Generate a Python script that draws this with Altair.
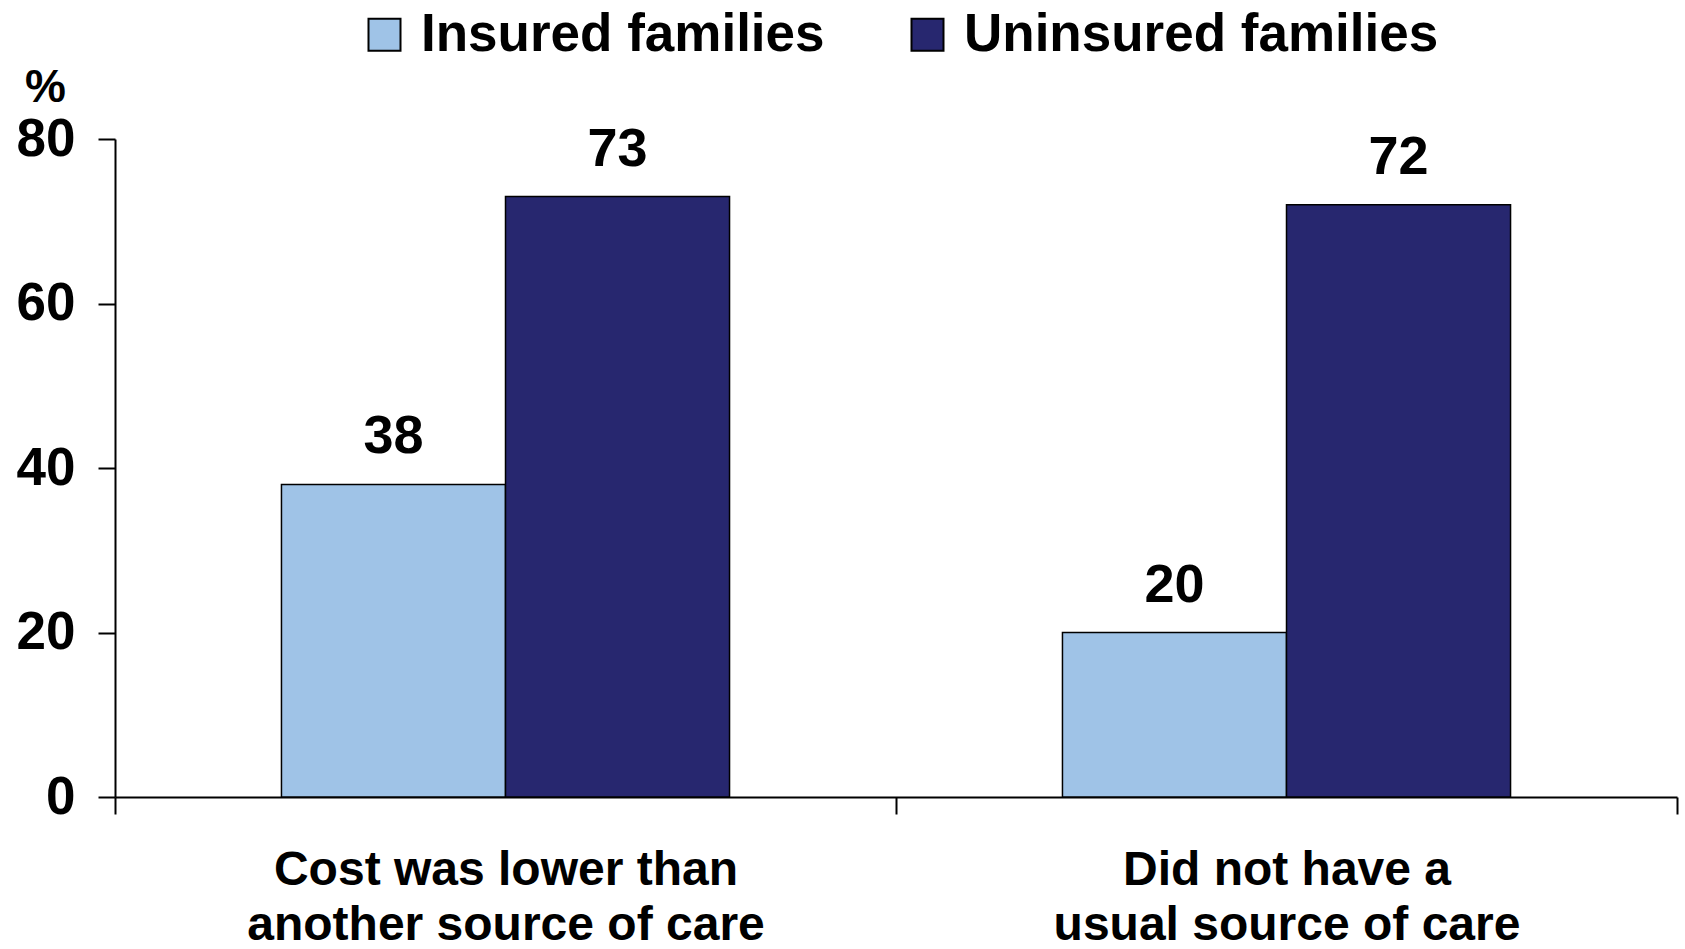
import altair as alt
import pandas as pd

categories = ["Cost was lower than\nanother source of care", "Did not have a\nusual source of care"]
series = ["Insured families", "Uninsured families"]
insured = [38, 20]
uninsured = [73, 72]
colors = ["#9FC3E7", "#27276F"]
y_ticks = [0, 20, 40, 60, 80]

rows = []
for c, a, b in zip(categories, insured, uninsured):
    rows.append({"category": c, "series": series[0], "value": a})
    rows.append({"category": c, "series": series[1], "value": b})
df = pd.DataFrame(rows)

FONT = "Liberation Sans"

x_enc = alt.X(
    "category:N",
    sort=categories,
    scale=alt.Scale(paddingInner=0, paddingOuter=0),
    axis=alt.Axis(
        title=None,
        labelAngle=0,
        tickBand="extent",
        labelExpr="split(datum.label, '\\n')",
        labelFont=FONT,
        labelFontSize=48,
        labelFontWeight="bold",
        labelColor="black",
        labelPadding=32,
        labelLineHeight=55,
        labelLimit=1000,
        tickSize=17,
        tickColor="black",
        tickWidth=2,
        domainColor="black",
        domainWidth=2,
    ),
)
xoff_enc = alt.XOffset(
    "series:N", sort=series, scale=alt.Scale(paddingInner=0, paddingOuter=0.743)
)
y_enc = alt.Y(
    "value:Q",
    scale=alt.Scale(domain=[0, 80], nice=False),
    axis=alt.Axis(
        values=y_ticks,
        grid=False,
        title="%",
        titleAngle=0,
        titleAlign="center",
        titleBaseline="alphabetic",
        titleX=-70,
        titleY=-38,
        titleFont=FONT,
        titleFontSize=46,
        titleFontWeight="bold",
        titleColor="black",
        labelFont=FONT,
        labelFontSize=53,
        labelFontWeight="bold",
        labelColor="black",
        labelPadding=23,
        tickSize=17,
        tickColor="black",
        tickWidth=2,
        domainColor="black",
        domainWidth=2,
    ),
)

bars = alt.Chart(df).mark_bar(stroke="black", strokeWidth=1.5).encode(
    x=x_enc,
    xOffset=xoff_enc,
    y=y_enc,
    color=alt.Color(
        "series:N",
        sort=series,
        scale=alt.Scale(domain=series, range=colors),
        legend=alt.Legend(
            title=None,
            orient="none",
            direction="horizontal",
            legendX=243,
            legendY=-131,
            symbolType="square",
            symbolSize=1024,
            symbolStrokeColor="black",
            symbolStrokeWidth=2,
            symbolOpacity=1,
            labelFont=FONT,
            labelFontSize=53,
            labelFontWeight="bold",
            labelColor="black",
            labelOffset=10,
            columnPadding=76,
            labelLimit=600,
        ),
    ),
)

labels = alt.Chart(df).mark_text(
    dy=-31, baseline="alphabetic", font=FONT, fontSize=54, fontWeight="bold", color="black"
).encode(
    x=alt.X("category:N", sort=categories),
    xOffset=alt.XOffset("series:N", sort=series),
    y=alt.Y("value:Q"),
    text=alt.Text("value:Q"),
)

chart = (
    alt.layer(bars, labels)
    .properties(
        width=1562,
        height=658,
        autosize=alt.AutoSizeParams(type="none"),
        padding={"left": 115, "top": 139, "right": 8, "bottom": 152},
        background="white",
    )
    .configure_view(stroke=None)
)

chart.save("out.html", embed_options={"renderer": "svg", "actions": False})
